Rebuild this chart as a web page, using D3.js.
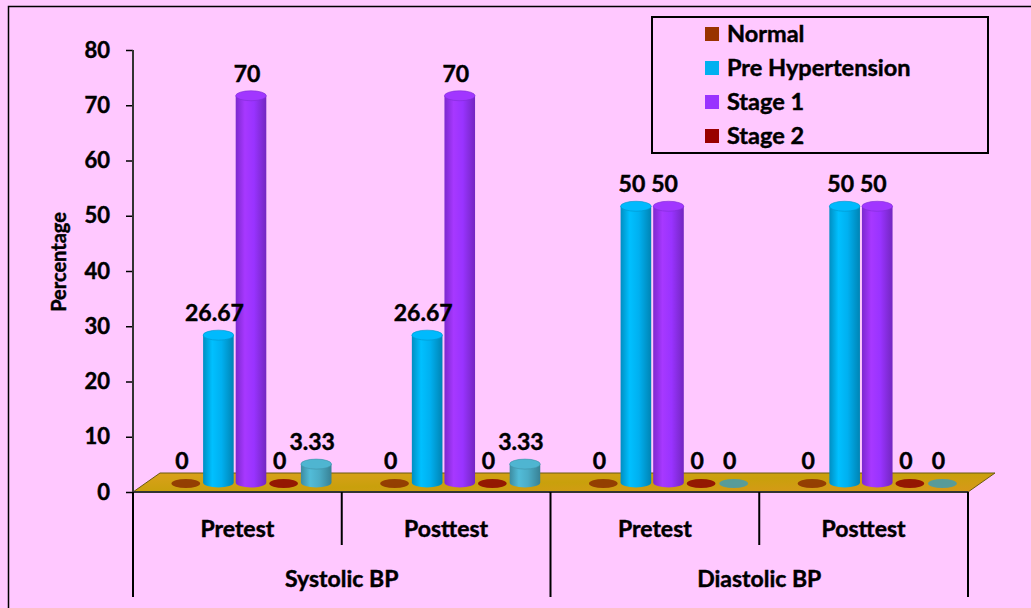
<!DOCTYPE html>
<html>
<head>
<meta charset="utf-8">
<script src="https://cdn.jsdelivr.net/npm/d3@7"></script>
<style>
  html, body { margin: 0; padding: 0; background: #FFC8FF; }
  svg { display: block; }
  text { font-family: Lato, "Open Sans", sans-serif; font-weight: 700; fill: #000; stroke: #000; stroke-width: 0.45px; }
</style>
</head>
<body>
<svg id="chart" width="1031" height="608"></svg>
<script>
// Blood pressure classification, percentage of participants
const bpTypes = ["Systolic BP", "Diastolic BP"];
const tests = ["Pretest", "Posttest"];
const groups = ["Systolic BP|Pretest", "Systolic BP|Posttest", "Diastolic BP|Pretest", "Diastolic BP|Posttest"];
const seriesNames = ["Normal", "Pre Hypertension", "Stage 1", "Stage 2", "Stage 2b"];
const legendNames = ["Normal", "Pre Hypertension", "Stage 1", "Stage 2"];
const normal = [0, 0, 0, 0];
const preHypertension = [26.67, 26.67, 50, 50];
const stage1 = [70, 70, 50, 50];
const stage2 = [0, 0, 0, 0];
const stage2b = [3.33, 3.33, 0, 0];
const seriesValues = [normal, preHypertension, stage1, stage2, stage2b];
const seriesColors = ["#993300", "#00B0F0", "#9933FF", "#990000", "#4BACC6"];
const yTicks = [0, 10, 20, 30, 40, 50, 60, 70, 80];

const svg = d3.select("#chart");

// frame around the chart area
svg.append("rect").attr("x", 8.5).attr("y", 6.5).attr("width", 1040).attr("height", 620)
  .attr("fill", "#FFC8FF").attr("stroke", "#000").attr("stroke-width", 1.5);

const x0 = 133, x1 = 968, yBase = 492;
const depthX = 27, depthY = -19;
const y = d3.scaleLinear().domain([0, 80]).range([yBase, 50]);
const xGroup = d3.scaleBand().domain(groups).range([x0, x1]).padding(0);
const xSeries = d3.scaleBand().domain(seriesNames).range([23, 186]).padding(0);

const defs = svg.append("defs");
seriesColors.forEach((c, i) => {
  const base = d3.color(c);
  const g = defs.append("linearGradient").attr("id", "cyl" + i)
    .attr("x1", "0%").attr("x2", "100%").attr("y1", "0%").attr("y2", "0%");
  g.append("stop").attr("offset", "0%").attr("stop-color", base.darker(0.6));
  g.append("stop").attr("offset", "30%").attr("stop-color", base.brighter(0.25));
  g.append("stop").attr("offset", "60%").attr("stop-color", base);
  g.append("stop").attr("offset", "100%").attr("stop-color", base.darker(0.8));
});
const floorGrad = defs.append("linearGradient").attr("id", "floorG")
  .attr("x1", "0%").attr("x2", "100%").attr("y1", "0%").attr("y2", "100%");
floorGrad.append("stop").attr("offset", "0%").attr("stop-color", "#DBA01C");
floorGrad.append("stop").attr("offset", "50%").attr("stop-color", "#C9A00C");
floorGrad.append("stop").attr("offset", "100%").attr("stop-color", "#D8981A");

// floor
svg.append("polygon")
  .attr("points", [[x0, yBase], [x1, yBase], [x1 + depthX, yBase + depthY], [x0 + depthX, yBase + depthY]].join(" "))
  .attr("fill", "url(#floorG)").attr("stroke", "#6b5a10").attr("stroke-width", 1);
svg.append("line").attr("x1", x0).attr("x2", x1).attr("y1", yBase).attr("y2", yBase)
  .attr("stroke", "#333").attr("stroke-width", 2);

// y axis
const yAxis = d3.axisLeft(y).tickValues(yTicks).tickSize(7).tickPadding(16);
const yg = svg.append("g").attr("transform", `translate(${x0},0)`).call(yAxis);
yg.select(".domain").remove();
yg.selectAll(".tick line").attr("stroke", "#000").attr("stroke-width", 1.5);
yg.selectAll(".tick text").attr("font-size", 22).style("font-family", "Lato, sans-serif").style("font-weight", 700);
svg.append("line").attr("x1", x0).attr("x2", x0).attr("y1", y(80)).attr("y2", 597)
  .attr("stroke", "#333").attr("stroke-width", 2);

svg.append("text").attr("transform", `translate(66,262) rotate(-90)`)
  .attr("text-anchor", "middle").attr("font-size", 20).attr("stroke-width", 0.3).text("Percentage");

// cylinders
const offX = depthX / 2, offY = depthY / 2;
const bars = [];
groups.forEach((g, gi) => {
  seriesNames.forEach((s, si) => {
    bars.push({ g, gi, s, si, v: seriesValues[si][gi] });
  });
});
const rx = xSeries.bandwidth() / 2 - 1, ry = 5;
const barG = svg.append("g");
bars.forEach(d => {
  const cx = xGroup(d.g) + offX + xSeries(d.s) + xSeries.bandwidth() / 2;
  const yb = y(0) + offY;
  const yt = y(d.v) + offY;
  const grp = barG.append("g");
  const base = d3.color(seriesColors[d.si]);
  if (d.v <= 0) {
    grp.append("ellipse").attr("cx", cx).attr("cy", yb + 1).attr("rx", rx - 1).attr("ry", 4.5)
      .attr("fill", base.darker(0.3)).attr("opacity", 0.85);
  } else {
    grp.append("path")
      .attr("d", `M${cx - rx},${yt} L${cx - rx},${yb} A${rx},${ry} 0 0 0 ${cx + rx},${yb} L${cx + rx},${yt} Z`)
      .attr("fill", `url(#cyl${d.si})`);
    grp.append("ellipse").attr("cx", cx).attr("cy", yt).attr("rx", rx).attr("ry", ry)
      .attr("fill", base.brighter(0.15)).attr("stroke", base.darker(0.5)).attr("stroke-width", 0.6);
  }
  // value label
  svg.append("text").attr("x", cx - 4).attr("y", yt - 14)
    .attr("text-anchor", "middle").attr("font-size", 23).text(d3.format("~")(d.v));
});

// category axis (two levels)
const cat = svg.append("g");
groups.forEach((g, gi) => {
  const [bp, t] = g.split("|");
  cat.append("text").attr("x", xGroup(g) + xGroup.bandwidth() / 2).attr("y", 537)
    .attr("text-anchor", "middle").attr("font-size", 23).text(t);
});
bpTypes.forEach((b, bi) => {
  const left = xGroup(groups[bi * 2]);
  const right = xGroup(groups[bi * 2 + 1]) + xGroup.bandwidth();
  cat.append("text").attr("x", (left + right) / 2).attr("y", 587)
    .attr("text-anchor", "middle").attr("font-size", 23).text(b);
});
const dividers = [x0, xGroup(groups[1]), xGroup(groups[2]), xGroup(groups[3]), x1];
dividers.forEach((dx, i) => {
  cat.append("line").attr("x1", dx).attr("x2", dx).attr("y1", yBase)
    .attr("y2", (i === 1 || i === 3) ? 545 : 597).attr("stroke", "#000").attr("stroke-width", 2);
});

// legend
const lg = svg.append("g");
lg.append("rect").attr("x", 652).attr("y", 17).attr("width", 336).attr("height", 136)
  .attr("fill", "none").attr("stroke", "#000").attr("stroke-width", 2);
legendNames.forEach((n, i) => {
  const cy = 34 + i * 34;
  lg.append("rect").attr("x", 705).attr("y", cy - 7).attr("width", 14).attr("height", 14)
    .attr("fill", seriesColors[i]);
  lg.append("text").attr("x", 727).attr("y", cy + 8).attr("font-size", 23.5).text(n);
});
</script>
</body>
</html>
